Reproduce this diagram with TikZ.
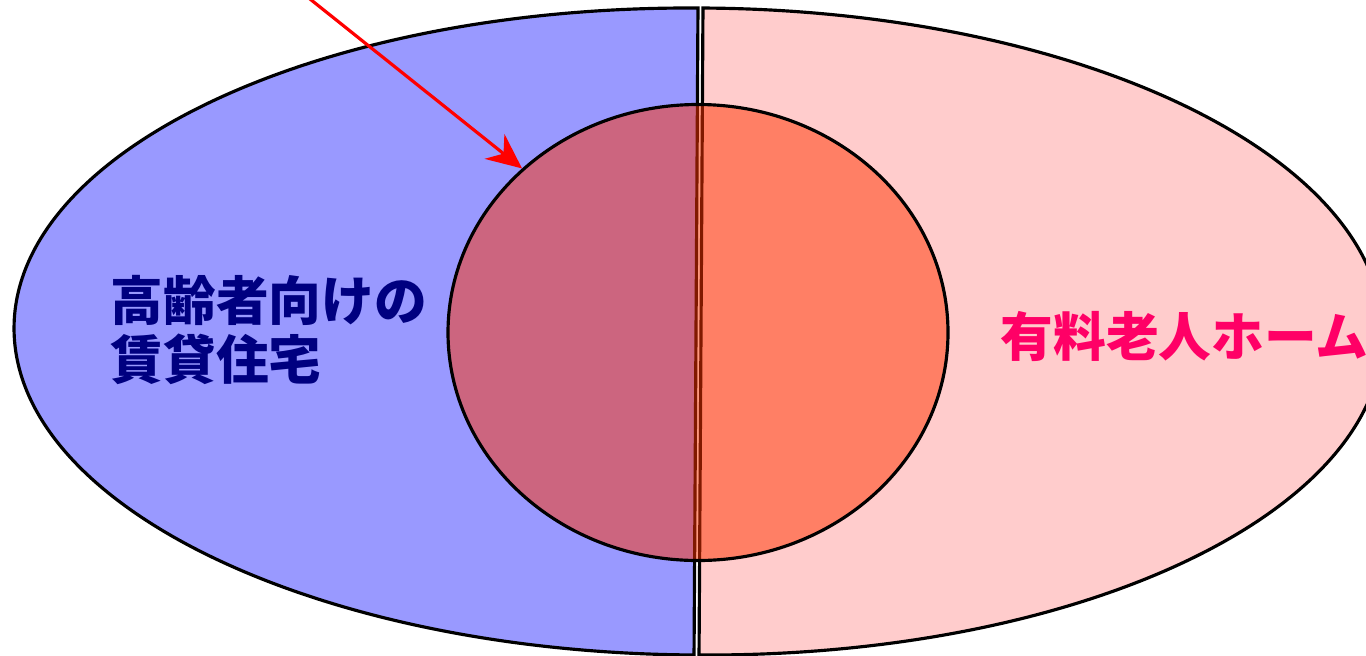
\documentclass[tikz,border=0pt]{standalone}
\usepackage{fontspec}
\newfontfamily\cjk{Noto Sans CJK JP}
\usetikzlibrary{shapes.geometric,arrows.meta}
\definecolor{halfblue}{HTML}{9999FF}
\definecolor{halfpink}{HTML}{FFCCCC}
\definecolor{overlap}{HTML}{FF3300}
\definecolor{navytext}{HTML}{000080}
\definecolor{pinktext}{HTML}{FF0066}
\tikzset{
  half/.style={draw=black, line width=0.9pt},
  label/.style={inner sep=0pt, font=\cjk\bfseries\fontsize{15.0}{16.6}\selectfont, align=left},
  pointer/.style={draw=red, line width=0.9pt, -{Stealth[length=10pt,width=9pt]}}
}
\begin{document}
\begin{tikzpicture}
\useasboundingbox (0,0) rectangle (13.66,-6.55);
\clip (0,0) rectangle (13.66,-6.55);
% left half (blue)
\begin{scope}[shift={(6.96,-3.315)}, rotate=-0.35]
  \path[half, fill=halfblue] (0,3.235) arc[start angle=90, end angle=270, x radius=6.82, y radius=3.235] -- cycle;
\end{scope}
% right half (pink)
\begin{scope}[shift={(7.01,-3.315)}, rotate=-0.35]
  \path[half, fill=halfpink] (0,3.235) arc[start angle=90, end angle=-90, x radius=6.82, y radius=3.235] -- cycle;
\end{scope}
% overlap ellipse
\node[ellipse, draw=black, line width=0.9pt, fill=overlap, fill opacity=0.5, minimum width=5.0cm, minimum height=4.56cm, inner sep=0pt] (circ) at (6.98,-3.325) {};
% labels
\node[label, text=navytext, anchor=north west] (left) at (1.10,-2.75) {高齢者向けの\\賃貸住宅};
\node[label, text=pinktext, anchor=west] (right) at (10.0,-3.36) {有料老人ホーム};
% arrow
\coordinate (from) at (3.05,0.05);
\draw[pointer] (from) -- (circ.137.5);
\end{tikzpicture}
\end{document}
